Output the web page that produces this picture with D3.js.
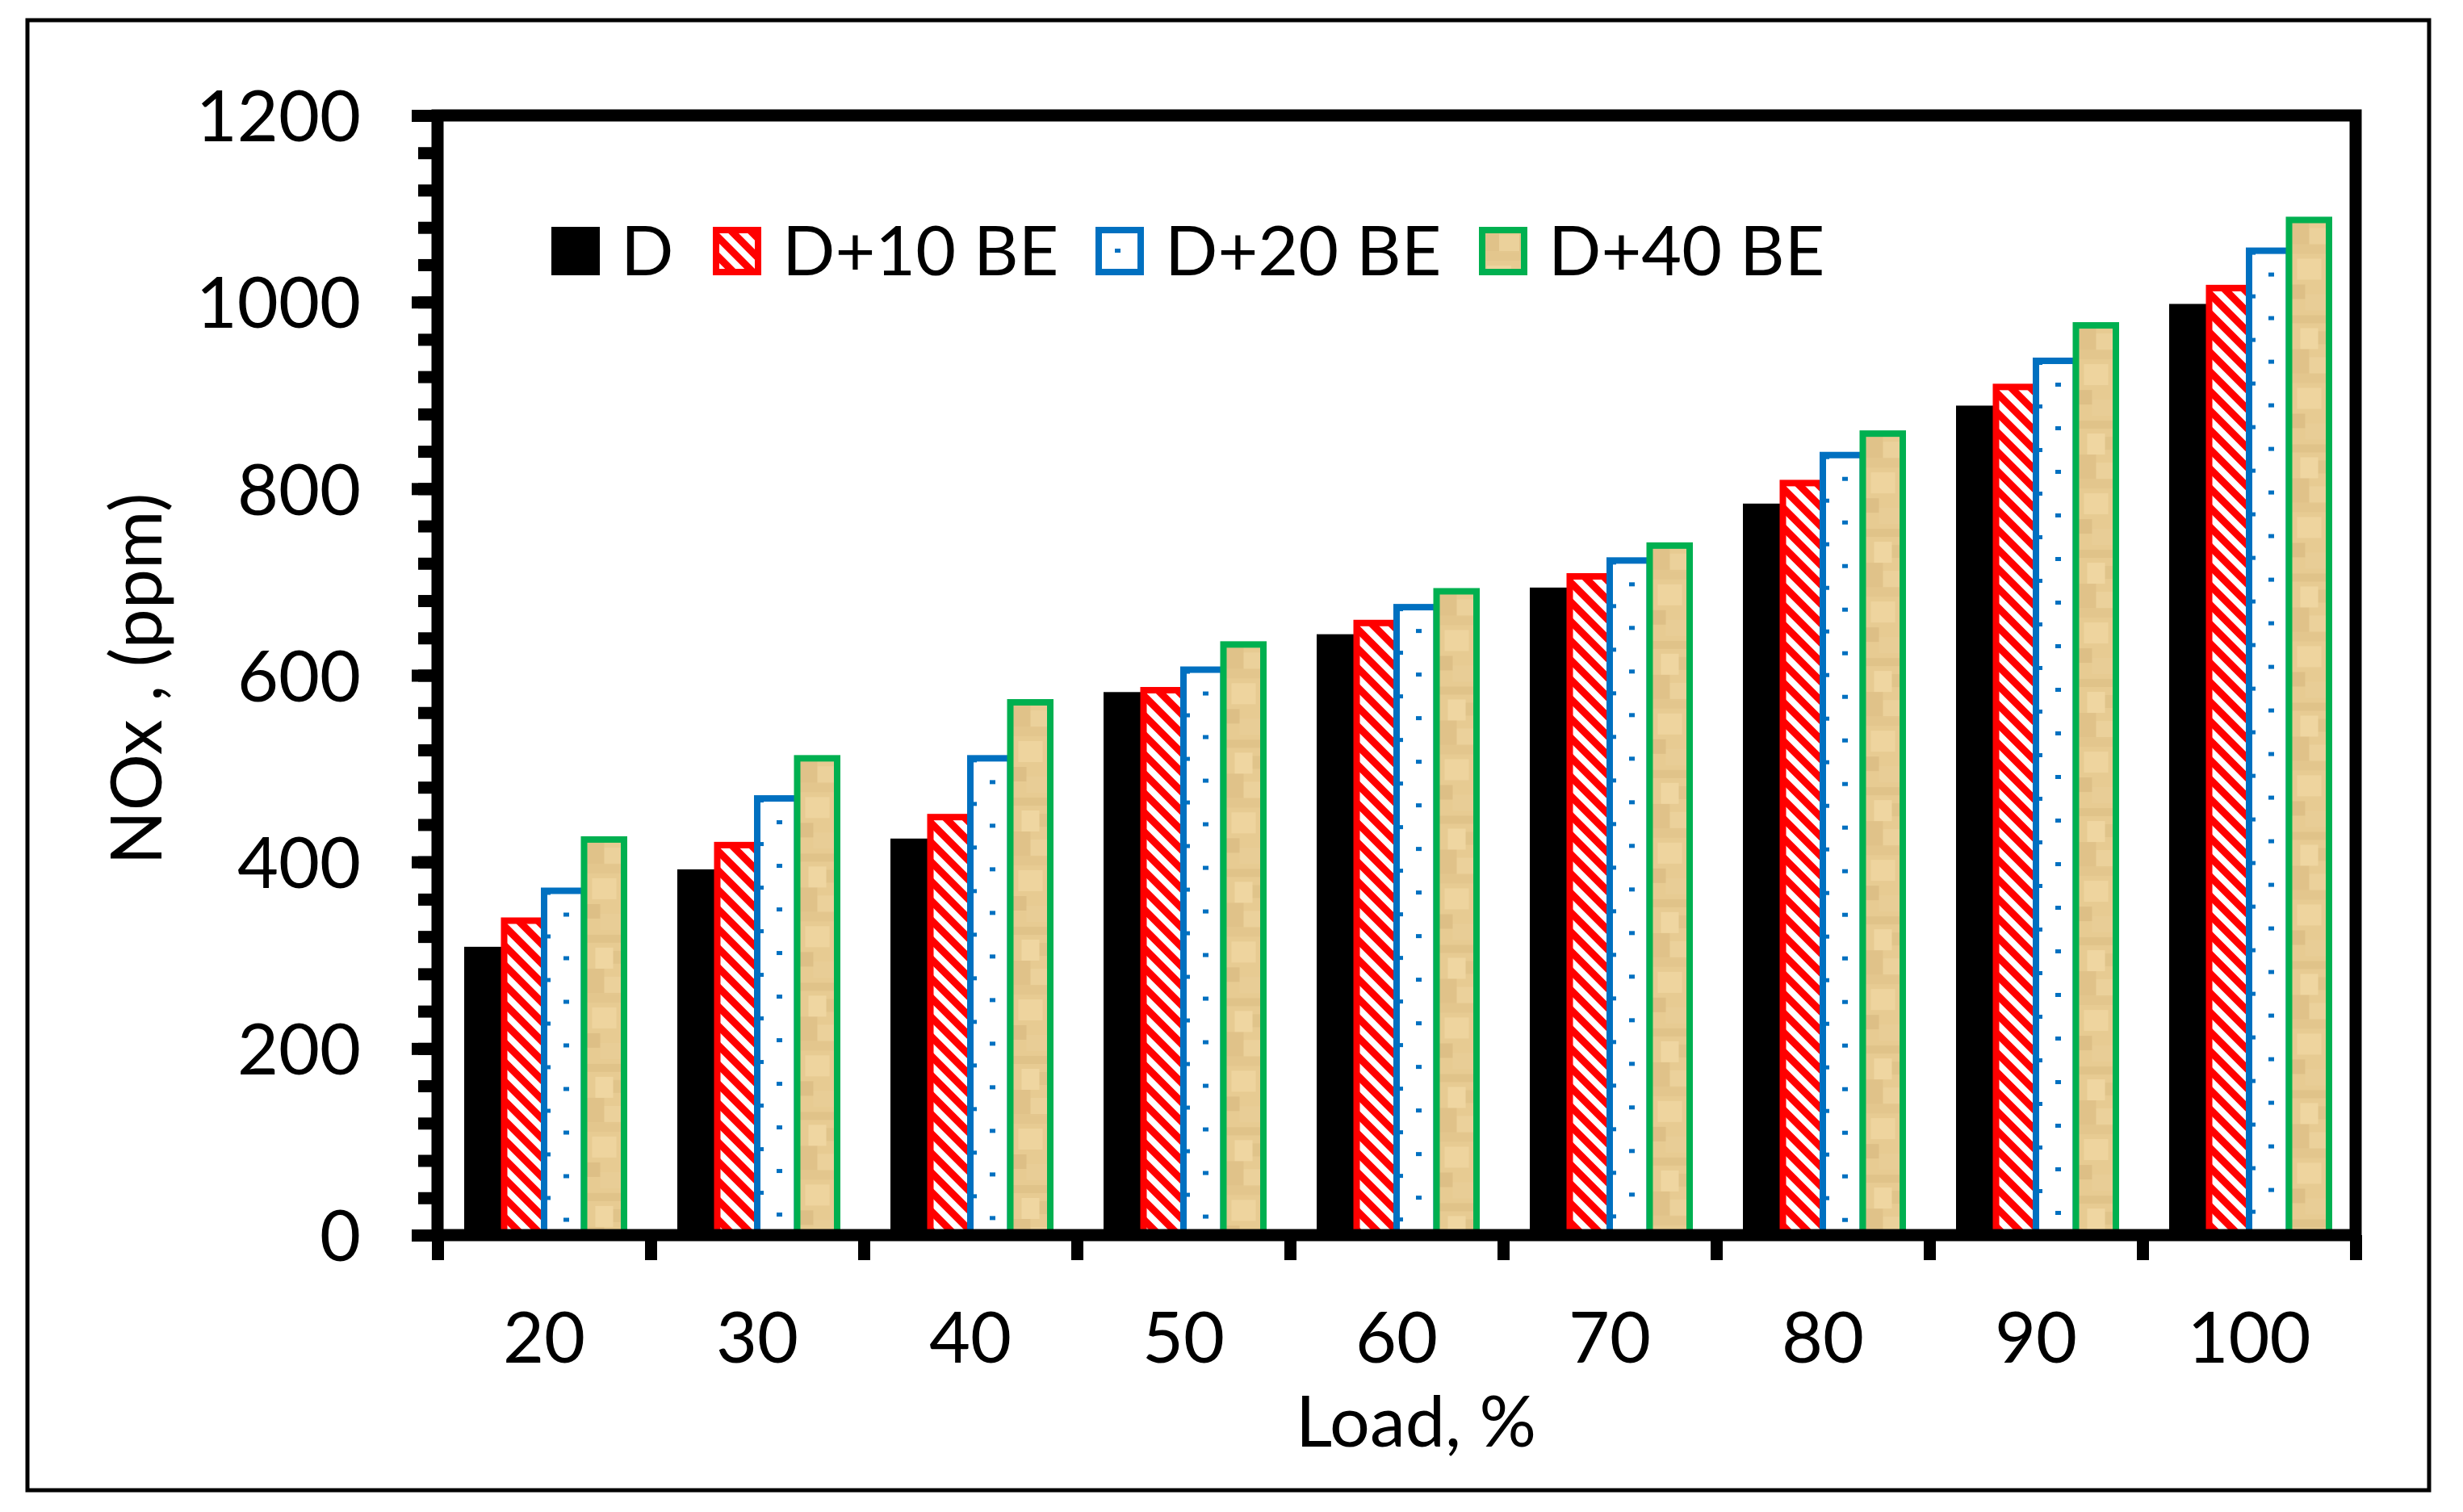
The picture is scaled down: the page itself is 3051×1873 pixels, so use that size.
<!DOCTYPE html>
<html>
<head>
<meta charset="utf-8">
<script src="https://cdn.jsdelivr.net/npm/d3@7"></script>
<style>
  body { margin: 0; background: #fff; }
</style>
</head>
<body>
<svg id="chart"></svg>
<script>
// data
const loads = ["20", "30", "40", "50", "60", "70", "80", "90", "100"];
const seriesNames = ["D", "D+10 BE", "D+20 BE", "D+40 BE"];
const noxD = [309, 392, 425, 582, 644, 694, 784, 889, 998];
const noxBE10 = [337, 418, 448, 584, 656, 706, 806, 909, 1015];
const noxBE20 = [369, 468, 511, 606, 673, 723, 836, 937, 1055];
const noxBE40 = [424, 511, 571, 633, 690, 739, 859, 975, 1088];
const yTicks = [0, 200, 400, 600, 800, 1000, 1200];
const yMinorStep = 40;

const WIDTH = 3051;
const HEIGHT = 1873;
const LEFT = 542, RIGHT = 2918, TOP = 143, BOTTOM = 1530;
const LINE_W = 15;
const FONT = "Lato, 'Open Sans', sans-serif";
const FONT_SIZE = 88;

const seriesValues = [noxD, noxBE10, noxBE20, noxBE40];
const barStyles = [
  { fill: "#000000", stroke: "none" },
  { fill: "url(#hatchRed)", stroke: "#ff0000" },
  { fill: "url(#dotsBlue)", stroke: "#0070c0" },
  { fill: "url(#tanTexture)", stroke: "#00b050" },
];
// legend swatch x offsets (layout)
const legendX = [0, 200, 674, 1149];

const svg = d3.select("#chart").attr("width", WIDTH).attr("height", HEIGHT);
svg.append("rect").attr("width", WIDTH).attr("height", HEIGHT).attr("fill", "#fff");

// patterns
const defs = svg.append("defs");

const hatch = defs.append("pattern")
  .attr("id", "hatchRed")
  .attr("patternUnits", "userSpaceOnUse")
  .attr("width", 17).attr("height", 17)
  .attr("patternTransform", "rotate(-45)");
hatch.append("rect").attr("width", 17).attr("height", 17).attr("fill", "#ff0000");
hatch.append("rect").attr("width", 8).attr("height", 17).attr("fill", "#ffffff");

const dots = defs.append("pattern")
  .attr("id", "dotsBlue")
  .attr("patternUnits", "userSpaceOnUse")
  .attr("width", 54).attr("height", 54);
dots.append("rect").attr("width", 54).attr("height", 54).attr("fill", "#ffffff");
dots.append("rect").attr("x", 1).attr("y", 0).attr("width", 7).attr("height", 5).attr("fill", "#0070c0");
dots.append("rect").attr("x", 24).attr("y", 27).attr("width", 7).attr("height", 5).attr("fill", "#0070c0");

// papyrus-ish tan texture
const tanBase = "#e7cb92";
const tanBlots = [
  [0, 0, 25, 30, "#dfc187"], [25, 10, 25, 22, "#edd29c"], [0, 30, 50, 12, "#e3c68c"],
  [10, 48, 30, 26, "#f0d6a0"], [0, 80, 20, 18, "#dcbd84"], [20, 92, 30, 20, "#e9ce96"],
  [0, 118, 50, 10, "#dfc287"], [14, 134, 22, 26, "#f1d8a3"], [36, 138, 14, 16, "#e0c389"],
];
const tan = defs.append("pattern")
  .attr("id", "tanTexture")
  .attr("patternUnits", "userSpaceOnUse")
  .attr("width", 50).attr("height", 160);
tan.append("rect").attr("width", 50).attr("height", 160).attr("fill", tanBase);
tanBlots.forEach(([bx, by, w, h, c]) => {
  tan.append("rect").attr("x", bx).attr("y", by).attr("width", w).attr("height", h)
    .attr("fill", c).attr("opacity", 0.85);
});

// outer frame
svg.append("rect")
  .attr("x", 34).attr("y", 25)
  .attr("width", 2975).attr("height", 1821)
  .attr("fill", "none").attr("stroke", "#000").attr("stroke-width", 5);

// scales
const x = d3.scaleBand().domain(loads).range([LEFT, RIGHT]).paddingInner(0.25).paddingOuter(0.125);
const xSub = d3.scaleBand().domain(seriesNames).range([0, x.bandwidth()]);
const xEdge = d3.scaleLinear().domain([0, loads.length]).range([LEFT, RIGHT]);
const y = d3.scaleLinear().domain([0, 1200]).range([BOTTOM, TOP]);

// bars
seriesNames.forEach((name, si) => {
  const style = barStyles[si];
  const g = svg.append("g");
  seriesValues[si].forEach((v, i) => {
    const bx = x(loads[i]) + xSub(name);
    const by = y(v);
    g.append("g")
      .attr("transform", `translate(${bx}, ${by})`)
      .append("rect")
      .attr("width", xSub.bandwidth())
      .attr("height", y(0) - by)
      .attr("fill", style.fill)
      .attr("stroke", style.stroke)
      .attr("stroke-width", style.stroke === "none" ? 0 : 8);
  });
});

// axes
const styleAxis = (g) => {
  g.select(".domain").remove();
  g.selectAll(".tick line").attr("stroke", "#000").attr("stroke-width", LINE_W);
  g.selectAll(".tick text")
    .attr("font-family", FONT)
    .attr("font-size", FONT_SIZE)
    .attr("fill", "#000");
};

svg.append("g")
  .attr("transform", `translate(${LEFT}, 0)`)
  .call(d3.axisLeft(y).tickValues(d3.range(0, 1201, yMinorStep)).tickSize(24).tickFormat(""))
  .call(styleAxis);

svg.append("g")
  .attr("transform", `translate(${LEFT}, 0)`)
  .call(d3.axisLeft(y).tickValues(yTicks).tickSize(32).tickPadding(63).tickFormat(d3.format("d")))
  .call(styleAxis)
  .call((g) => g.selectAll(".tick text").attr("dy", "0.36em"));

svg.append("g")
  .attr("transform", `translate(0, ${BOTTOM})`)
  .call(d3.axisBottom(xEdge).tickValues(d3.range(loads.length + 1)).tickSize(31).tickFormat(""))
  .call(styleAxis);

svg.append("g")
  .attr("transform", `translate(0, ${BOTTOM})`)
  .call(d3.axisBottom(x).tickSize(0).tickPadding(96))
  .call(styleAxis);

// plot frame
svg.append("rect")
  .attr("x", LEFT).attr("y", TOP)
  .attr("width", RIGHT - LEFT).attr("height", BOTTOM - TOP)
  .attr("fill", "none").attr("stroke", "#000").attr("stroke-width", LINE_W);

// axis titles
svg.append("text")
  .attr("transform", "translate(200, 841) rotate(-90)")
  .attr("text-anchor", "middle")
  .attr("font-family", FONT)
  .attr("font-size", FONT_SIZE)
  .text("NOx , (ppm)");

svg.append("text")
  .attr("x", 1754).attr("y", 1792)
  .attr("text-anchor", "middle")
  .attr("font-family", FONT)
  .attr("font-size", FONT_SIZE)
  .text("Load, %");

// legend
const legend = svg.append("g").attr("transform", "translate(683, 281)");
seriesNames.forEach((name, si) => {
  const style = barStyles[si];
  const item = legend.append("g").attr("transform", `translate(${legendX[si]}, 0)`);
  const inset = style.stroke === "none" ? 0 : 4;
  item.append("rect")
    .attr("x", inset).attr("y", inset)
    .attr("width", 60 - 2 * inset).attr("height", 60 - 2 * inset)
    .attr("fill", style.fill)
    .attr("stroke", style.stroke)
    .attr("stroke-width", style.stroke === "none" ? 0 : 8);
  item.append("text")
    .attr("x", 86).attr("y", 60)
    .attr("font-family", FONT)
    .attr("font-size", 86)
    .text(name);
});
</script>
</body>
</html>
